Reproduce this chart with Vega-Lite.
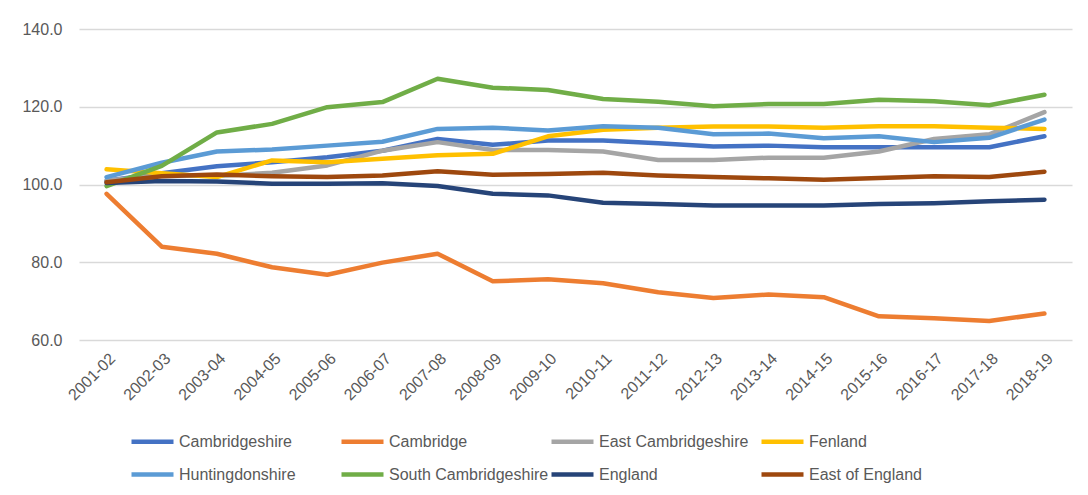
{
  "$schema": "https://vega.github.io/schema/vega-lite/v6.json",
  "width": 993,
  "height": 311,
  "autosize": {"type": "none"},
  "padding": {"left": 79, "top": 29, "right": 16, "bottom": 155},
  "background": "#ffffff",
  "config": {
    "view": {"stroke": null},
    "font": "Liberation Sans",
    "axis": {"labelFont": "Liberation Sans", "labelColor": "#595959", "labelFontSize": 16},
    "legend": {"labelFont": "Liberation Sans", "labelColor": "#595959", "labelFontSize": 16}
  },
  "datasets": {
    "index": [
      {"period": "2001-02", "area": "Cambridgeshire", "value": 101.0},
      {"period": "2002-03", "area": "Cambridgeshire", "value": 102.9},
      {"period": "2003-04", "area": "Cambridgeshire", "value": 104.7},
      {"period": "2004-05", "area": "Cambridgeshire", "value": 105.7},
      {"period": "2005-06", "area": "Cambridgeshire", "value": 107.0},
      {"period": "2006-07", "area": "Cambridgeshire", "value": 108.7},
      {"period": "2007-08", "area": "Cambridgeshire", "value": 111.7},
      {"period": "2008-09", "area": "Cambridgeshire", "value": 110.2},
      {"period": "2009-10", "area": "Cambridgeshire", "value": 111.3},
      {"period": "2010-11", "area": "Cambridgeshire", "value": 111.3},
      {"period": "2011-12", "area": "Cambridgeshire", "value": 110.6},
      {"period": "2012-13", "area": "Cambridgeshire", "value": 109.8},
      {"period": "2013-14", "area": "Cambridgeshire", "value": 110.0},
      {"period": "2014-15", "area": "Cambridgeshire", "value": 109.6},
      {"period": "2015-16", "area": "Cambridgeshire", "value": 109.6},
      {"period": "2016-17", "area": "Cambridgeshire", "value": 109.6},
      {"period": "2017-18", "area": "Cambridgeshire", "value": 109.6},
      {"period": "2018-19", "area": "Cambridgeshire", "value": 112.4},

      {"period": "2001-02", "area": "Cambridge", "value": 97.6},
      {"period": "2002-03", "area": "Cambridge", "value": 84.0},
      {"period": "2003-04", "area": "Cambridge", "value": 82.2},
      {"period": "2004-05", "area": "Cambridge", "value": 78.7},
      {"period": "2005-06", "area": "Cambridge", "value": 76.8},
      {"period": "2006-07", "area": "Cambridge", "value": 79.9},
      {"period": "2007-08", "area": "Cambridge", "value": 82.2},
      {"period": "2008-09", "area": "Cambridge", "value": 75.1},
      {"period": "2009-10", "area": "Cambridge", "value": 75.6},
      {"period": "2010-11", "area": "Cambridge", "value": 74.6},
      {"period": "2011-12", "area": "Cambridge", "value": 72.3},
      {"period": "2012-13", "area": "Cambridge", "value": 70.8},
      {"period": "2013-14", "area": "Cambridge", "value": 71.7},
      {"period": "2014-15", "area": "Cambridge", "value": 71.0},
      {"period": "2015-16", "area": "Cambridge", "value": 66.1},
      {"period": "2016-17", "area": "Cambridge", "value": 65.6},
      {"period": "2017-18", "area": "Cambridge", "value": 64.9},
      {"period": "2018-19", "area": "Cambridge", "value": 66.8},

      {"period": "2001-02", "area": "East Cambridgeshire", "value": 101.0},
      {"period": "2002-03", "area": "East Cambridgeshire", "value": 102.4},
      {"period": "2003-04", "area": "East Cambridgeshire", "value": 102.2},
      {"period": "2004-05", "area": "East Cambridgeshire", "value": 103.0},
      {"period": "2005-06", "area": "East Cambridgeshire", "value": 104.9},
      {"period": "2006-07", "area": "East Cambridgeshire", "value": 108.7},
      {"period": "2007-08", "area": "East Cambridgeshire", "value": 110.9},
      {"period": "2008-09", "area": "East Cambridgeshire", "value": 108.9},
      {"period": "2009-10", "area": "East Cambridgeshire", "value": 108.9},
      {"period": "2010-11", "area": "East Cambridgeshire", "value": 108.5},
      {"period": "2011-12", "area": "East Cambridgeshire", "value": 106.3},
      {"period": "2012-13", "area": "East Cambridgeshire", "value": 106.3},
      {"period": "2013-14", "area": "East Cambridgeshire", "value": 106.9},
      {"period": "2014-15", "area": "East Cambridgeshire", "value": 106.9},
      {"period": "2015-16", "area": "East Cambridgeshire", "value": 108.5},
      {"period": "2016-17", "area": "East Cambridgeshire", "value": 111.7},
      {"period": "2017-18", "area": "East Cambridgeshire", "value": 112.9},
      {"period": "2018-19", "area": "East Cambridgeshire", "value": 118.6},

      {"period": "2001-02", "area": "Fenland", "value": 103.9},
      {"period": "2002-03", "area": "Fenland", "value": 102.9},
      {"period": "2003-04", "area": "Fenland", "value": 101.9},
      {"period": "2004-05", "area": "Fenland", "value": 106.2},
      {"period": "2005-06", "area": "Fenland", "value": 105.7},
      {"period": "2006-07", "area": "Fenland", "value": 106.6},
      {"period": "2007-08", "area": "Fenland", "value": 107.5},
      {"period": "2008-09", "area": "Fenland", "value": 107.9},
      {"period": "2009-10", "area": "Fenland", "value": 112.4},
      {"period": "2010-11", "area": "Fenland", "value": 114.1},
      {"period": "2011-12", "area": "Fenland", "value": 114.6},
      {"period": "2012-13", "area": "Fenland", "value": 114.9},
      {"period": "2013-14", "area": "Fenland", "value": 114.9},
      {"period": "2014-15", "area": "Fenland", "value": 114.6},
      {"period": "2015-16", "area": "Fenland", "value": 115.0},
      {"period": "2016-17", "area": "Fenland", "value": 115.0},
      {"period": "2017-18", "area": "Fenland", "value": 114.6},
      {"period": "2018-19", "area": "Fenland", "value": 114.3},

      {"period": "2001-02", "area": "Huntingdonshire", "value": 101.9},
      {"period": "2002-03", "area": "Huntingdonshire", "value": 105.6},
      {"period": "2003-04", "area": "Huntingdonshire", "value": 108.5},
      {"period": "2004-05", "area": "Huntingdonshire", "value": 109.0},
      {"period": "2005-06", "area": "Huntingdonshire", "value": 110.0},
      {"period": "2006-07", "area": "Huntingdonshire", "value": 111.0},
      {"period": "2007-08", "area": "Huntingdonshire", "value": 114.3},
      {"period": "2008-09", "area": "Huntingdonshire", "value": 114.6},
      {"period": "2009-10", "area": "Huntingdonshire", "value": 113.9},
      {"period": "2010-11", "area": "Huntingdonshire", "value": 115.0},
      {"period": "2011-12", "area": "Huntingdonshire", "value": 114.6},
      {"period": "2012-13", "area": "Huntingdonshire", "value": 112.9},
      {"period": "2013-14", "area": "Huntingdonshire", "value": 113.1},
      {"period": "2014-15", "area": "Huntingdonshire", "value": 111.9},
      {"period": "2015-16", "area": "Huntingdonshire", "value": 112.4},
      {"period": "2016-17", "area": "Huntingdonshire", "value": 110.9},
      {"period": "2017-18", "area": "Huntingdonshire", "value": 112.0},
      {"period": "2018-19", "area": "Huntingdonshire", "value": 116.7},

      {"period": "2001-02", "area": "South Cambridgeshire", "value": 99.6},
      {"period": "2002-03", "area": "South Cambridgeshire", "value": 104.8},
      {"period": "2003-04", "area": "South Cambridgeshire", "value": 113.4},
      {"period": "2004-05", "area": "South Cambridgeshire", "value": 115.6},
      {"period": "2005-06", "area": "South Cambridgeshire", "value": 119.9},
      {"period": "2006-07", "area": "South Cambridgeshire", "value": 121.2},
      {"period": "2007-08", "area": "South Cambridgeshire", "value": 127.2},
      {"period": "2008-09", "area": "South Cambridgeshire", "value": 124.9},
      {"period": "2009-10", "area": "South Cambridgeshire", "value": 124.3},
      {"period": "2010-11", "area": "South Cambridgeshire", "value": 122.0},
      {"period": "2011-12", "area": "South Cambridgeshire", "value": 121.3},
      {"period": "2012-13", "area": "South Cambridgeshire", "value": 120.1},
      {"period": "2013-14", "area": "South Cambridgeshire", "value": 120.7},
      {"period": "2014-15", "area": "South Cambridgeshire", "value": 120.7},
      {"period": "2015-16", "area": "South Cambridgeshire", "value": 121.8},
      {"period": "2016-17", "area": "South Cambridgeshire", "value": 121.4},
      {"period": "2017-18", "area": "South Cambridgeshire", "value": 120.4},
      {"period": "2018-19", "area": "South Cambridgeshire", "value": 123.1},

      {"period": "2001-02", "area": "England", "value": 100.4},
      {"period": "2002-03", "area": "England", "value": 100.9},
      {"period": "2003-04", "area": "England", "value": 100.8},
      {"period": "2004-05", "area": "England", "value": 100.2},
      {"period": "2005-06", "area": "England", "value": 100.2},
      {"period": "2006-07", "area": "England", "value": 100.3},
      {"period": "2007-08", "area": "England", "value": 99.6},
      {"period": "2008-09", "area": "England", "value": 97.6},
      {"period": "2009-10", "area": "England", "value": 97.2},
      {"period": "2010-11", "area": "England", "value": 95.3},
      {"period": "2011-12", "area": "England", "value": 95.0},
      {"period": "2012-13", "area": "England", "value": 94.6},
      {"period": "2013-14", "area": "England", "value": 94.6},
      {"period": "2014-15", "area": "England", "value": 94.6},
      {"period": "2015-16", "area": "England", "value": 95.0},
      {"period": "2016-17", "area": "England", "value": 95.2},
      {"period": "2017-18", "area": "England", "value": 95.7},
      {"period": "2018-19", "area": "England", "value": 96.1},

      {"period": "2001-02", "area": "East of England", "value": 100.6},
      {"period": "2002-03", "area": "East of England", "value": 102.1},
      {"period": "2003-04", "area": "East of England", "value": 102.6},
      {"period": "2004-05", "area": "East of England", "value": 102.1},
      {"period": "2005-06", "area": "East of England", "value": 101.9},
      {"period": "2006-07", "area": "East of England", "value": 102.3},
      {"period": "2007-08", "area": "East of England", "value": 103.4},
      {"period": "2008-09", "area": "East of England", "value": 102.5},
      {"period": "2009-10", "area": "East of England", "value": 102.7},
      {"period": "2010-11", "area": "East of England", "value": 103.0},
      {"period": "2011-12", "area": "East of England", "value": 102.3},
      {"period": "2012-13", "area": "East of England", "value": 101.9},
      {"period": "2013-14", "area": "East of England", "value": 101.6},
      {"period": "2014-15", "area": "East of England", "value": 101.2},
      {"period": "2015-16", "area": "East of England", "value": 101.7},
      {"period": "2016-17", "area": "East of England", "value": 102.1},
      {"period": "2017-18", "area": "East of England", "value": 101.9},
      {"period": "2018-19", "area": "East of England", "value": 103.3}
    ]
  },
  "data": {"name": "index"},
  "mark": {"type": "line", "strokeWidth": 4.5, "strokeCap": "round", "strokeJoin": "round"},
  "encoding": {
    "x": {
      "field": "period",
      "type": "ordinal",
      "sort": null,
      "scale": {"type": "point", "padding": 0.5},
      "axis": {
        "title": null,
        "labelAngle": -45,
        "ticks": false,
        "domain": false,
        "grid": false,
        "labelPadding": 10
      }
    },
    "y": {
      "field": "value",
      "type": "quantitative",
      "scale": {"domain": [60, 140], "nice": false, "zero": false},
      "axis": {
        "title": null,
        "values": [60, 80, 100, 120, 140],
        "format": ".1f",
        "ticks": false,
        "domain": false,
        "grid": true,
        "gridColor": "#D9D9D9",
        "gridWidth": 1.5,
        "labelPadding": 17
      }
    },
    "color": {
      "field": "area",
      "type": "nominal",
      "sort": null,
      "scale": {
        "domain": ["Cambridgeshire", "Cambridge", "East Cambridgeshire", "Fenland", "Huntingdonshire", "South Cambridgeshire", "England", "East of England"],
        "range": ["#4472C4", "#ED7D31", "#A5A5A5", "#FFC000", "#5B9BD5", "#70AD47", "#264478", "#9E480E"]
      },
      "legend": {
        "title": null,
        "orient": "none",
        "legendX": 50,
        "legendY": 389,
        "direction": "horizontal",
        "columns": 4,
        "gridAlign": "all",
        "columnPadding": -7,
        "rowPadding": -1,
        "symbolType": "stroke",
        "symbolSize": 1764,
        "symbolStrokeWidth": 4.5,
        "labelOffset": 3,
        "labelLimit": 300
      }
    },
    "order": {"field": "period"}
  }
}
